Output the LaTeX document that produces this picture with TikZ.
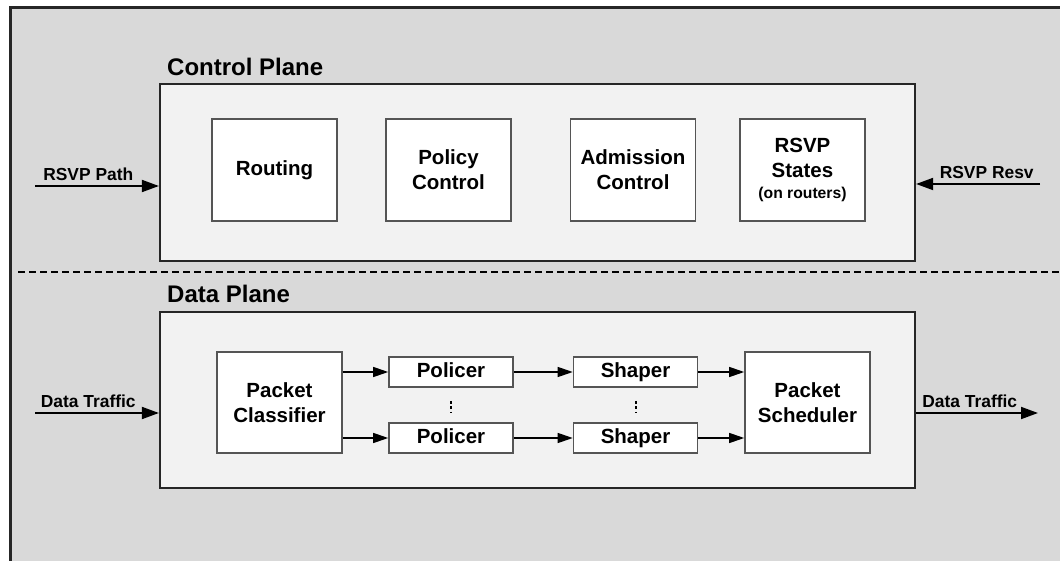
\documentclass[tikz,border=0pt]{standalone}
\usepackage{fontspec}
\setmainfont{Liberation Sans}
\usetikzlibrary{arrows.meta}
\definecolor{framegray}{HTML}{D9D9D9}
\definecolor{planegray}{HTML}{F2F2F2}
\definecolor{boxline}{HTML}{555555}

\begin{document}
\begin{tikzpicture}[x=1pt,y=-1pt,
  plane/.style={draw=black!85,line width=2.2pt,fill=planegray,minimum width=755pt,inner sep=0pt},
  block/.style={draw=boxline,line width=1.6pt,fill=white,minimum width=125pt,minimum height=102pt,align=center,font=\fontsize{20.5}{25}\selectfont\bfseries,inner sep=0pt},
  slim/.style={block,minimum height=30pt,minimum width=124pt,text height=15pt,text depth=4pt},
  planetitle/.style={anchor=base west,font=\fontsize{24}{28}\selectfont\bfseries,inner sep=0pt},
  flow/.style={-{Triangle[length=17pt,width=12pt]},line width=1.8pt},
  link/.style={-{Triangle[length=15pt,width=10pt]},line width=1.3pt},
  dots/.style={line width=2pt,dash pattern=on 3pt off 2.5pt,shorten <=13pt,shorten >=9pt},
  tlabel/.style={font=\fontsize{17.4}{20}\selectfont\bfseries,above=4pt,inner sep=0pt,pos=0.43}]
\useasboundingbox (0,0) rectangle (1060,561);
\clip (0,0) rectangle (1060,561);
\draw[line width=3pt,draw=black!85,fill=framegray] (10,8) rectangle (1075,575);
% control plane
\node[plane,minimum height=177pt] (cp) at (537.5,172.5) {};
\node[planetitle] (cptitle) at (167,76) {Control Plane};
\node[block] (route) at (274.5,170) {Routing};
\node[block] (policy) at (448.5,170) {Policy\\Control};
\node[block] (admit) at (633,170) {Admission\\Control};
\node[block] (rsvp) at (802.5,170) {RSVP\\States\\[-4pt]{\fontsize{15.7}{19}\selectfont (on routers)}};
\coordinate (pathin) at (35,186);
\coordinate (resvin) at (1040,184);
\draw[flow] (pathin) -- (pathin -| cp.west) node[tlabel] {RSVP Path};
\draw[flow] (resvin) -- (resvin -| cp.east) node[tlabel] {RSVP Resv};
\draw[line width=2.6pt,dash pattern=on 7pt off 4pt] (18,272) -- (1060,272);
% data plane
\node[plane,minimum height=176pt] (dp) at (537.5,400) {};
\node[planetitle] (dptitle) at (167,303) {Data Plane};
\node[block,minimum height=101pt] (classify) at (279.5,402.5) {Packet\\Classifier};
\node[slim] (pol1) at (451,372) {Policer};
\node[slim] (pol2) at (451,438) {Policer};
\node[slim] (shp1) at (635.5,372) {Shaper};
\node[slim] (shp2) at (635.5,438) {Shaper};
\node[block,minimum height=101pt] (sched) at (807.5,402.5) {Packet\\Scheduler};
\coordinate (datain) at (35,413);
\coordinate (dataout) at (1038,413);
\draw[flow] (datain) -- (datain -| dp.west) node[tlabel] {Data Traffic};
\draw[flow] (dataout -| dp.east) -- (dataout) node[tlabel,pos=0.44] {Data Traffic};
\foreach \i in {1,2} {
  \draw[link] (classify.east |- pol\i) -- (pol\i);
  \draw[link] (pol\i) -- (shp\i);
  \draw[link] (shp\i) -- (sched.west |- shp\i);
}
\draw[dots] (pol1) -- (pol2);
\draw[dots] (shp1) -- (shp2);
\end{tikzpicture}
\end{document}
